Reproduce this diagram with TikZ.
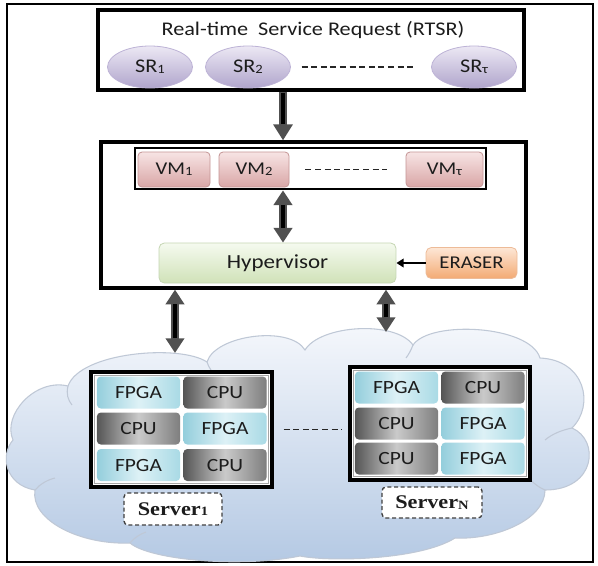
\documentclass[tikz,border=0pt]{standalone}
\usepackage{graphicx}
\usepackage{fontspec}
\setmainfont{Carlito}
\newfontfamily\srvfont{Liberation Serif}
\usetikzlibrary{arrows.meta,shapes.geometric,calc}
\definecolor{srtop}{HTML}{ECE8F4}
\definecolor{srbot}{HTML}{B0A5CC}
\definecolor{srline}{HTML}{BDB3D6}
\definecolor{vmtop}{HTML}{F7E4E4}
\definecolor{vmbot}{HTML}{D9A6A6}
\definecolor{vmline}{HTML}{C49595}
\definecolor{hyptop}{HTML}{F5FAEF}
\definecolor{hypbot}{HTML}{D0E2B8}
\definecolor{hypline}{HTML}{C5D6B3}
\definecolor{ertop}{HTML}{FDE7D6}
\definecolor{erbot}{HTML}{F3AA74}
\definecolor{erline}{HTML}{EDBB98}
\definecolor{fpgaL}{HTML}{94CEDC}
\definecolor{fpgaM}{HTML}{DDF1F6}
\definecolor{fpgaR}{HTML}{A9DAE5}
\definecolor{cpuL}{HTML}{555555}
\definecolor{cpuM}{HTML}{CACACA}
\definecolor{cpuR}{HTML}{7E7E7E}
\definecolor{cloudtop}{HTML}{F6F8FC}
\definecolor{cloudbot}{HTML}{B3C8E3}
\definecolor{cloudline}{HTML}{BFC8D6}
\definecolor{arrowgray}{HTML}{505050}
\definecolor{txt}{HTML}{1C1C1C}
\newcommand\wide[1]{\scalebox{1.15}[1]{#1}}
\newcommand\sbs[1]{\raisebox{-0.6pt}{\fontsize{9.5}{10}\selectfont #1}}
\begin{document}
\begin{tikzpicture}[x=0.75pt,y=-0.75pt,
  blackbox/.style={draw=black, line width=2.4pt, inner sep=0pt},
  srnode/.style={ellipse, minimum width=63.75pt, minimum height=31.5pt, inner sep=0pt,
     top color=srtop, bottom color=srbot, draw=srline, line width=0.6pt,
     font=\fontsize{14.5}{16}\selectfont, text=txt},
  vmnode/.style={rectangle, rounded corners=3pt, minimum width=54pt, minimum height=26.25pt,
     inner sep=0pt, top color=vmtop, bottom color=vmbot, draw=vmline, line width=0.6pt,
     font=\fontsize{13.5}{15}\selectfont, text=txt},
  hypnode/.style={rectangle, rounded corners=4pt, inner sep=0pt,
     top color=hyptop, bottom color=hypbot, draw=hypline, line width=0.6pt,
     font=\fontsize{15}{17}\selectfont, text=txt},
  ernode/.style={rectangle, rounded corners=4pt, inner sep=0pt,
     top color=ertop, bottom color=erbot, draw=erline, line width=0.6pt,
     font=\fontsize{13.5}{15}\selectfont, text=txt},
  cellbase/.style={rectangle, rounded corners=3pt, minimum width=62.5pt, minimum height=24pt,
     inner sep=0pt, font=\fontsize{14}{16}\selectfont, text=txt},
  fpga/.style={cellbase, left color=fpgaL, right color=fpgaR, middle color=fpgaM},
  cpu/.style={cellbase, left color=cpuL, right color=cpuR, middle color=cpuM},
  srvouter/.style={blackbox, fill=white},
  srvinner/.style={draw=gray!70, line width=0.6pt, inner sep=0pt, fill=white},
  srvlabel/.style={draw=black!75, dash pattern=on 3pt off 2pt, line width=1pt,
     rounded corners=3pt, fill=white, inner sep=0pt,
     font=\srvfont\bfseries\fontsize{14.5}{16}\selectfont, text=txt},
  dotline/.style={draw=black!85, line width=0.9pt, dash pattern=on 4.5pt off 2.7pt},
  bigarrow/.style={draw=arrowgray, line width=6.5pt, -{Triangle[width=14pt,length=12pt]}},
  dblarrow/.style={draw=arrowgray, line width=6pt,
     {Triangle[width=13.5pt,length=11pt]}-{Triangle[width=13.5pt,length=11pt]}},
  arrowcore/.style={draw=black, line width=2.6pt},
  thinarrow/.style={draw=black, line width=1.6pt, -{Triangle[width=6.5pt,length=5.5pt]}}
]
\useasboundingbox (0,0) rectangle (598,565);
\fill[white] (0,0) rectangle (598,565);

% outer frame
\node[draw=black, line width=2.2pt, minimum width=439.5pt, minimum height=418.5pt, inner sep=0pt]
  (frame) at (300,283) {};

% cloud
\shade[top color=cloudtop, bottom color=cloudbot, draw=cloudline, line width=0.8pt]
  (13,440)
  .. controls (2,415) and (35,378) .. (68,386)
  .. controls (80,352) and (180,344) .. (207,362)
  .. controls (215,335) and (290,325) .. (305,350)
  .. controls (320,325) and (395,320) .. (413,345)
  .. controls (430,320) and (530,325) .. (540,358)
  .. controls (585,360) and (595,405) .. (572,428)
  .. controls (600,440) and (596,490) .. (545,490)
  .. controls (545,520) and (495,540) .. (455,538)
  .. controls (420,560) and (330,562) .. (300,556)
  .. controls (240,568) and (150,560) .. (130,543)
  .. controls (80,545) and (30,520) .. (35,490)
  .. controls (5,485) and (0,455) .. (13,440) -- cycle;
% inner folds of the cloud
\draw[cloudline, line width=0.8pt] (68,386) .. controls (66,394) and (68,400) .. (72,405);
\draw[cloudline, line width=0.8pt] (207,362) .. controls (209,368) and (212,372) .. (216,376);
\draw[cloudline, line width=0.8pt] (413,345) .. controls (411,350) and (409,354) .. (406,358);
\draw[cloudline, line width=0.8pt] (572,428) .. controls (562,430) and (552,434) .. (545,440);
\draw[cloudline, line width=0.8pt] (545,490) .. controls (540,488) and (534,484) .. (530,479);
\draw[cloudline, line width=0.8pt] (35,490) .. controls (40,484) and (47,480) .. (55,478);
\draw[cloudline, line width=0.8pt] (130,543) .. controls (134,538) and (140,534) .. (146,532);

% RTSR
\node[blackbox, minimum width=319.5pt, minimum height=60pt] (rtsr) at (311,50) {};
\node[font=\fontsize{14.5}{16}\selectfont, text=txt, inner sep=0pt] (rtsrt) at (313,30)
  {\wide{Real-time\ \ Service Request (RTSR)}};
\node[srnode] (sr1) at (150,67) {\wide{SR\sbs{1}}};
\node[srnode] (sr2) at (248,67) {\wide{SR\sbs{2}}};
\node[srnode] (srt) at (474,67) {\wide{SR\sbs{τ}}};
\draw[dotline, shorten <=8pt, shorten >=11pt] (sr2.east) -- (srt.west);

% host box
\node[blackbox, minimum width=318.75pt, minimum height=109.5pt] (hostbox) at (313.5,215) {};
\node[blackbox, line width=2pt, minimum width=263.25pt, minimum height=30.75pt] (vmbox) at (310.5,168.5) {};
\node[vmnode] (vm1) at (174,169.5) {\wide{VM\sbs{1}}};
\node[vmnode, minimum width=52.5pt] (vm2) at (254,169.5) {\wide{VM\sbs{2}}};
\node[vmnode, minimum width=57.75pt] (vmt) at (444.5,169.5) {\wide{VM\sbs{τ}}};
\draw[dotline, shorten <=12pt, shorten >=14pt] (vm2.east) -- (vm2.east -| vmt.west);
\node[hypnode, minimum width=177.75pt, minimum height=30pt] (hyp) at (277.5,263) {\wide{Hypervisor}};
\node[ernode, minimum width=68.25pt, minimum height=23.25pt] (eraser) at (471.5,263) {\wide{ERASER}};
\draw[thinarrow] (eraser.west) -- (hyp.east);

% arrows
\coordinate (ax) at (283,0);
\draw[bigarrow] (rtsr.south -| ax) -- (hostbox.north -| ax);
\draw[arrowcore, shorten <=1pt, shorten >=12pt] (rtsr.south -| ax) -- (hostbox.north -| ax);
\draw[dblarrow] (vmbox.south -| ax) -- (hyp.north -| ax);
\draw[arrowcore, shorten <=11pt, shorten >=11pt] (vmbox.south -| ax) -- (hyp.north -| ax);
\coordinate (axl) at (175,353);
\coordinate (axr) at (386,332);
\draw[dblarrow] (hostbox.south -| axl) -- (axl);
\draw[arrowcore, shorten <=11pt, shorten >=11pt] (hostbox.south -| axl) -- (axl);
\draw[dblarrow] (hostbox.south -| axr) -- (axr);
\draw[arrowcore, shorten <=11pt, shorten >=11pt] (hostbox.south -| axr) -- (axr);

% server 1
\node[srvouter, minimum width=135.75pt, minimum height=86.25pt] (s1) at (181.5,429.5) {};
\node[srvinner, minimum width=130.5pt, minimum height=81pt] (s1in) at (181.5,429.5) {};
\node[fpga] (s1a) at (138.5,392.5) {\wide{FPGA}};
\node[cpu]  (s1b) at (225,392.5) {\wide{CPU}};
\node[cpu]  (s1c) at (138.5,428.5) {\wide{CPU}};
\node[fpga] (s1d) at (225,428.5) {\wide{FPGA}};
\node[fpga] (s1e) at (138.5,465) {\wide{FPGA}};
\node[cpu]  (s1f) at (225,465) {\wide{CPU}};
\node[srvlabel, minimum width=73.5pt, minimum height=24pt] (l1) at (173,509) {\wide{Server\sbs{1}}};

% server N
\node[srvouter, minimum width=135pt, minimum height=84.75pt] (sn) at (440,423.5) {};
\node[srvinner, minimum width=129.75pt, minimum height=79.5pt] (snin) at (440,423.5) {};
\node[fpga] (sna) at (396.5,387.5) {\wide{FPGA}};
\node[cpu]  (snb) at (483,387.5) {\wide{CPU}};
\node[cpu]  (snc) at (396.5,423.5) {\wide{CPU}};
\node[fpga] (snd) at (483,423.5) {\wide{FPGA}};
\node[cpu]  (sne) at (396.5,458.5) {\wide{CPU}};
\node[fpga] (snf) at (483,458.5) {\wide{FPGA}};
\node[srvlabel, minimum width=75pt, minimum height=23.25pt] (ln) at (432,502.5) {\wide{Server\sbs{N}}};

\draw[dotline, shorten <=7.5pt, shorten >=5pt] (s1.east) -- (s1.east -| sn.west);
\end{tikzpicture}
\end{document}
